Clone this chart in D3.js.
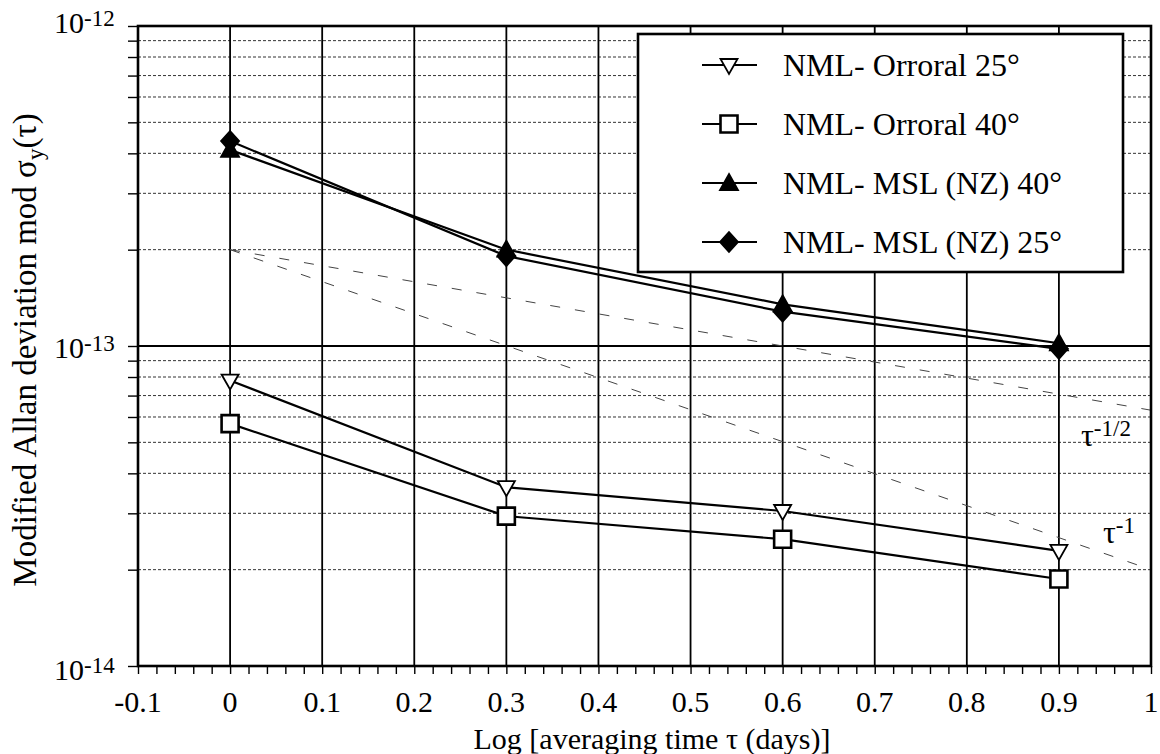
<!DOCTYPE html>
<html>
<head>
<meta charset="utf-8">
<script src="https://cdn.jsdelivr.net/npm/d3@7"></script>
<style>
  body { margin: 0; background: #fff; }
  svg { display: block; }
  text { font-family: "Liberation Serif", "Times New Roman", serif; fill: #000; }
</style>
</head>
<body>
<div id="chart"></div>
<script>
// data
var taus = [0, 0.3, 0.6, 0.9];
var orroral25 = [7.8e-14, 3.62e-14, 3.05e-14, 2.29e-14];
var orroral40 = [5.72e-14, 2.94e-14, 2.49e-14, 1.87e-14];
var msl40 = [4.1e-13, 2.0e-13, 1.35e-13, 1.02e-13];
var msl25 = [4.37e-13, 1.91e-13, 1.28e-13, 0.98e-13];

var seriesNames = ["NML- Orroral 25°", "NML- Orroral 40°", "NML- MSL (NZ) 40°", "NML- MSL (NZ) 25°"];
var seriesMarkers = ["triDownOpen", "squareOpen", "triUpFilled", "diamondFilled"];

// reference slopes tau^-1/2 and tau^-1
var slopeX = [0, 1];
var slopeHalf = [2e-13, 6.3e-14];
var slopeOne = [2e-13, 2e-14];

var xTicks = [-0.1, 0, 0.1, 0.2, 0.3, 0.4, 0.5, 0.6, 0.7, 0.8, 0.9, 1];
var xTickLabels = ["-0.1", "0", "0.1", "0.2", "0.3", "0.4", "0.5", "0.6", "0.7", "0.8", "0.9", "1"];
var yDecades = [1e-14, 1e-13, 1e-12];
var yDecadeExp = ["-14", "-13", "-12"];

var W = 1160, H = 754;
var margin = {top: 26, right: 9, bottom: 88, left: 138};

var svg = d3.select("#chart").append("svg")
  .attr("width", W).attr("height", H);

var x = d3.scaleLinear().domain([-0.1, 1]).range([margin.left, W - margin.right]);
var y = d3.scaleLog().domain([1e-14, 1e-12]).range([H - margin.bottom, margin.top]);

var x0 = x.range()[0], x1 = x.range()[1];
var yb = y.range()[0], yt = y.range()[1];

// minor horizontal grid (2..9 of each decade)
var minorY = [];
[1e-14, 1e-13].forEach(function(d){
  for (var k = 2; k <= 9; k++) minorY.push(d * k);
});

svg.append("g").selectAll("line")
  .data(minorY).enter().append("line")
  .attr("x1", x0).attr("x2", x1)
  .attr("y1", function(d){ return y(d); })
  .attr("y2", function(d){ return y(d); })
  .attr("stroke", "#333")
  .attr("stroke-width", 1)
  .attr("stroke-dasharray", "3,2");

// decade line
svg.append("line")
  .attr("x1", x0).attr("x2", x1)
  .attr("y1", y(1e-13)).attr("y2", y(1e-13))
  .attr("stroke", "#000").attr("stroke-width", 1.8);

// vertical grid
svg.append("g").selectAll("line")
  .data(xTicks).enter().append("line")
  .attr("x1", function(d){ return x(d); })
  .attr("x2", function(d){ return x(d); })
  .attr("y1", yb).attr("y2", yt)
  .attr("stroke", "#000").attr("stroke-width", 1.8);

// x axis ticks
var xAxis = d3.axisBottom(x)
  .tickValues(d3.range(-0.1, 1.0001, 0.02))
  .tickSize(8)
  .tickFormat("");
var gx = svg.append("g").attr("transform", "translate(0," + yb + ")").call(xAxis);
gx.select(".domain").remove();
gx.selectAll(".tick line").attr("stroke", "#000").attr("stroke-width", 1.4);

svg.append("g").selectAll("text")
  .data(xTicks).enter().append("text")
  .attr("x", function(d){ return x(d); })
  .attr("y", yb + 46)
  .attr("text-anchor", "middle")
  .attr("font-size", 30)
  .text(function(d, i){ return xTickLabels[i]; });

// y axis ticks
var yAxis = d3.axisLeft(y)
  .tickValues(minorY.concat(yDecades))
  .tickSize(10)
  .tickFormat("");
var gy = svg.append("g").attr("transform", "translate(" + x0 + ",0)").call(yAxis);
gy.select(".domain").remove();
gy.selectAll(".tick line").attr("stroke", "#000").attr("stroke-width", 1.4);

var yl = svg.append("g").selectAll("text")
  .data(yDecades).enter().append("text")
  .attr("x", 54)
  .attr("y", function(d, i){ return y(d) + [14, 12, 7][i]; })
  .attr("font-size", 30);
yl.append("tspan").text("10");
yl.append("tspan").attr("font-size", 23).attr("dy", -7)
  .text(function(d, i){ return yDecadeExp[i]; });

// slope reference lines
var line = d3.line()
  .x(function(d){ return x(d[0]); })
  .y(function(d){ return y(d[1]); });

[slopeHalf, slopeOne].forEach(function(vals){
  svg.append("path")
    .datum(slopeX.map(function(t, i){ return [t, vals[i]]; }))
    .attr("d", line)
    .attr("fill", "none")
    .attr("stroke", "#444")
    .attr("stroke-width", 1)
    .attr("stroke-dasharray", "10,15");
});

var sl1 = svg.append("text").attr("x", 1081).attr("y", 446).attr("font-size", 32);
sl1.append("tspan").text("τ");
sl1.append("tspan").attr("font-size", 23).attr("dy", -10).text("-1/2");
var sl2 = svg.append("text").attr("x", 1103).attr("y", 543).attr("font-size", 32);
sl2.append("tspan").text("τ");
sl2.append("tspan").attr("font-size", 23).attr("dy", -10).text("-1");

// markers
function markerPath(type) {
  var p = d3.path();
  if (type === "triDownOpen") {
    p.moveTo(-8.5, -6); p.lineTo(8.5, -6); p.lineTo(0, 9); p.closePath();
  } else if (type === "squareOpen") {
    p.rect(-8.5, -8.5, 17, 17);
  } else if (type === "triUpFilled") {
    p.moveTo(0, -9); p.lineTo(9, 7); p.lineTo(-9, 7); p.closePath();
  } else {
    p.moveTo(0, -10); p.lineTo(9, 0); p.lineTo(0, 10); p.lineTo(-9, 0); p.closePath();
  }
  return p.toString();
}
function markerFill(type) {
  return (type === "triDownOpen" || type === "squareOpen") ? "#fff" : "#000";
}

var allSeries = [orroral25, orroral40, msl40, msl25];

allSeries.forEach(function(vals){
  svg.append("path")
    .datum(taus.map(function(t, i){ return [t, vals[i]]; }))
    .attr("d", line)
    .attr("fill", "none")
    .attr("stroke", "#000")
    .attr("stroke-width", 2.2);
});

allSeries.forEach(function(vals, si){
  var m = seriesMarkers[si];
  svg.append("g").selectAll("path")
    .data(taus.map(function(t, i){ return [t, vals[i]]; }))
    .enter().append("path")
    .attr("transform", function(d){ return "translate(" + x(d[0]) + "," + y(d[1]) + ")"; })
    .attr("d", markerPath(m))
    .attr("fill", markerFill(m))
    .attr("stroke", "#000")
    .attr("stroke-width", m === "squareOpen" ? 2.6 : 1.8);
});

// frame
svg.append("rect")
  .attr("x", x0).attr("y", yt)
  .attr("width", x1 - x0).attr("height", yb - yt)
  .attr("fill", "none").attr("stroke", "#000").attr("stroke-width", 2.6);

// legend
var lg = svg.append("g");
lg.append("rect")
  .attr("x", 638).attr("y", 34).attr("width", 485).attr("height", 238)
  .attr("fill", "#fff").attr("stroke", "#000").attr("stroke-width", 2.6);

var rows = lg.selectAll("g.row").data(seriesNames).enter().append("g")
  .attr("class", "row")
  .attr("transform", function(d, i){ return "translate(0," + (65 + i * 59) + ")"; });
rows.append("line")
  .attr("x1", 702).attr("x2", 757).attr("y1", 0).attr("y2", 0)
  .attr("stroke", "#000").attr("stroke-width", 2);
rows.append("path")
  .attr("transform", "translate(729,0)")
  .attr("d", function(d, i){ return markerPath(seriesMarkers[i]); })
  .attr("fill", function(d, i){ return markerFill(seriesMarkers[i]); })
  .attr("stroke", "#000")
  .attr("stroke-width", function(d, i){ return seriesMarkers[i] === "squareOpen" ? 2.6 : 1.8; });
rows.append("text")
  .attr("x", 783).attr("y", 11)
  .attr("font-size", 32)
  .text(function(d){ return d; });

// axis titles
svg.append("text")
  .attr("x", 652).attr("y", 749)
  .attr("text-anchor", "middle")
  .attr("font-size", 30)
  .text("Log [averaging time τ (days)]");

var ytl = svg.append("text")
  .attr("transform", "translate(36,350) rotate(-90)")
  .attr("text-anchor", "middle")
  .attr("font-size", 33);
ytl.append("tspan").text("Modified Allan deviation mod σ");
ytl.append("tspan").attr("font-size", 23).attr("dy", 7).text("y");
ytl.append("tspan").attr("dy", -7).text("(τ)");
</script>
</body>
</html>
